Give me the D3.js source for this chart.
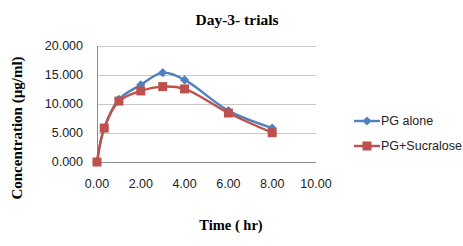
<!DOCTYPE html>
<html lang="en">
<head>
<meta charset="UTF-8">
<title>Day-3- trials</title>
<script src="https://cdn.jsdelivr.net/npm/d3@7"></script>
<style>
  body { margin: 0; background: #fff; }
</style>
</head>
<body>
<svg></svg>
<script>
    const times = [0, 0.33, 1, 2, 3, 4, 6, 8];
    const pgAlone = [0, 5.85, 10.8, 13.3, 15.4, 14.15, 8.85, 5.85];
    const pgSucralose = [0, 5.85, 10.5, 12.25, 13.0, 12.6, 8.45, 5.05];
    const seriesNames = ["PG alone", "PG+Sucralose"];
    const yTicks = [0, 5, 10, 15, 20];
    const xTicks = [0, 2, 4, 6, 8, 10];

    const width = 463, height = 246;
    const svg = d3.select("svg").attr("width", width).attr("height", height);

    const x = d3.scaleLinear().domain([0, 10]).range([97, 316]);
    const y = d3.scaleLinear().domain([0, 20]).range([162, 46]);
    const color = d3.scaleOrdinal().domain(seriesNames).range(["#4F81BD", "#C0504D"]);

    // gridlines
    svg.append("g")
        .selectAll("line")
        .data(yTicks)
        .join("line")
        .attr("x1", x(0)).attr("x2", x(10))
        .attr("y1", d => y(d)).attr("y2", d => y(d))
        .attr("stroke", d => d === 0 ? "#8c8c8c" : "#c8c8c8")
        .attr("stroke-width", 1)
        .attr("shape-rendering", "crispEdges");

    svg.append("line")
        .attr("x1", x(0)).attr("x2", x(0))
        .attr("y1", y(20)).attr("y2", y(0))
        .attr("stroke", "#8c8c8c")
        .attr("shape-rendering", "crispEdges");

    // tick labels
    svg.append("g")
        .selectAll("text")
        .data(yTicks)
        .join("text")
        .attr("x", 83)
        .attr("y", d => y(d))
        .attr("dy", "0.35em")
        .attr("text-anchor", "end")
        .style("font", "12.5px 'Liberation Sans', Arial, sans-serif")
        .attr("fill", "#222")
        .text(d => d3.format(".3f")(d));

    svg.append("g")
        .selectAll("text")
        .data(xTicks)
        .join("text")
        .attr("x", d => x(d))
        .attr("y", 188)
        .attr("text-anchor", "middle")
        .style("font", "12.5px 'Liberation Sans', Arial, sans-serif")
        .attr("fill", "#222")
        .text(d => d3.format(".2f")(d));

    const series = [
        {name: seriesNames[0], values: pgAlone, size: 42, rot: 45},
        {name: seriesNames[1], values: pgSucralose, size: 81, rot: 0}
    ];

    const line = d3.line()
        .x((d, i) => x(times[i]))
        .y(d => y(d))
        .curve(d3.curveCatmullRom.alpha(0.5));

    series.forEach(s => {
        svg.append("path")
            .datum(s.values)
            .attr("fill", "none")
            .attr("stroke", color(s.name))
            .attr("stroke-width", 2.4)
            .attr("d", line);
        svg.append("g")
            .selectAll("path")
            .data(s.values)
            .join("path")
            .attr("transform", (d, i) => `translate(${x(times[i])},${y(d)}) rotate(${s.rot})`)
            .attr("d", d3.symbol().type(d3.symbolSquare).size(s.size))
            .attr("fill", color(s.name));
    });

    // legend
    const legend = svg.append("g")
        .selectAll("g")
        .data(series)
        .join("g")
        .attr("transform", (d, i) => `translate(354,${121 + i * 25})`);
    legend.append("line")
        .attr("x1", 0).attr("x2", 26)
        .attr("stroke", d => color(d.name))
        .attr("stroke-width", 2.4);
    legend.append("path")
        .attr("transform", d => `translate(13,0) rotate(${d.rot})`)
        .attr("d", d => d3.symbol().type(d3.symbolSquare).size(d.size)())
        .attr("fill", d => color(d.name));
    legend.append("text")
        .attr("x", 27)
        .attr("dy", "0.35em")
        .style("font", "12.5px 'Liberation Sans', Arial, sans-serif")
        .attr("fill", "#222")
        .text(d => d.name);

    // titles
    svg.append("text")
        .attr("x", 237).attr("y", 25)
        .attr("text-anchor", "middle")
        .style("font", "bold 15.5px 'Liberation Serif', 'Times New Roman', serif")
        .text("Day-3- trials");

    svg.append("text")
        .attr("x", 231).attr("y", 230)
        .attr("text-anchor", "middle")
        .style("font", "bold 14.5px 'Liberation Serif', 'Times New Roman', serif")
        .text("Time ( hr)");

    svg.append("text")
        .attr("transform", "translate(22,128) rotate(-90)")
        .attr("text-anchor", "middle")
        .style("font", "bold 15px 'Liberation Serif', 'Times New Roman', serif")
        .text("Concentration (µg/ml)");
</script>
</body>
</html>
